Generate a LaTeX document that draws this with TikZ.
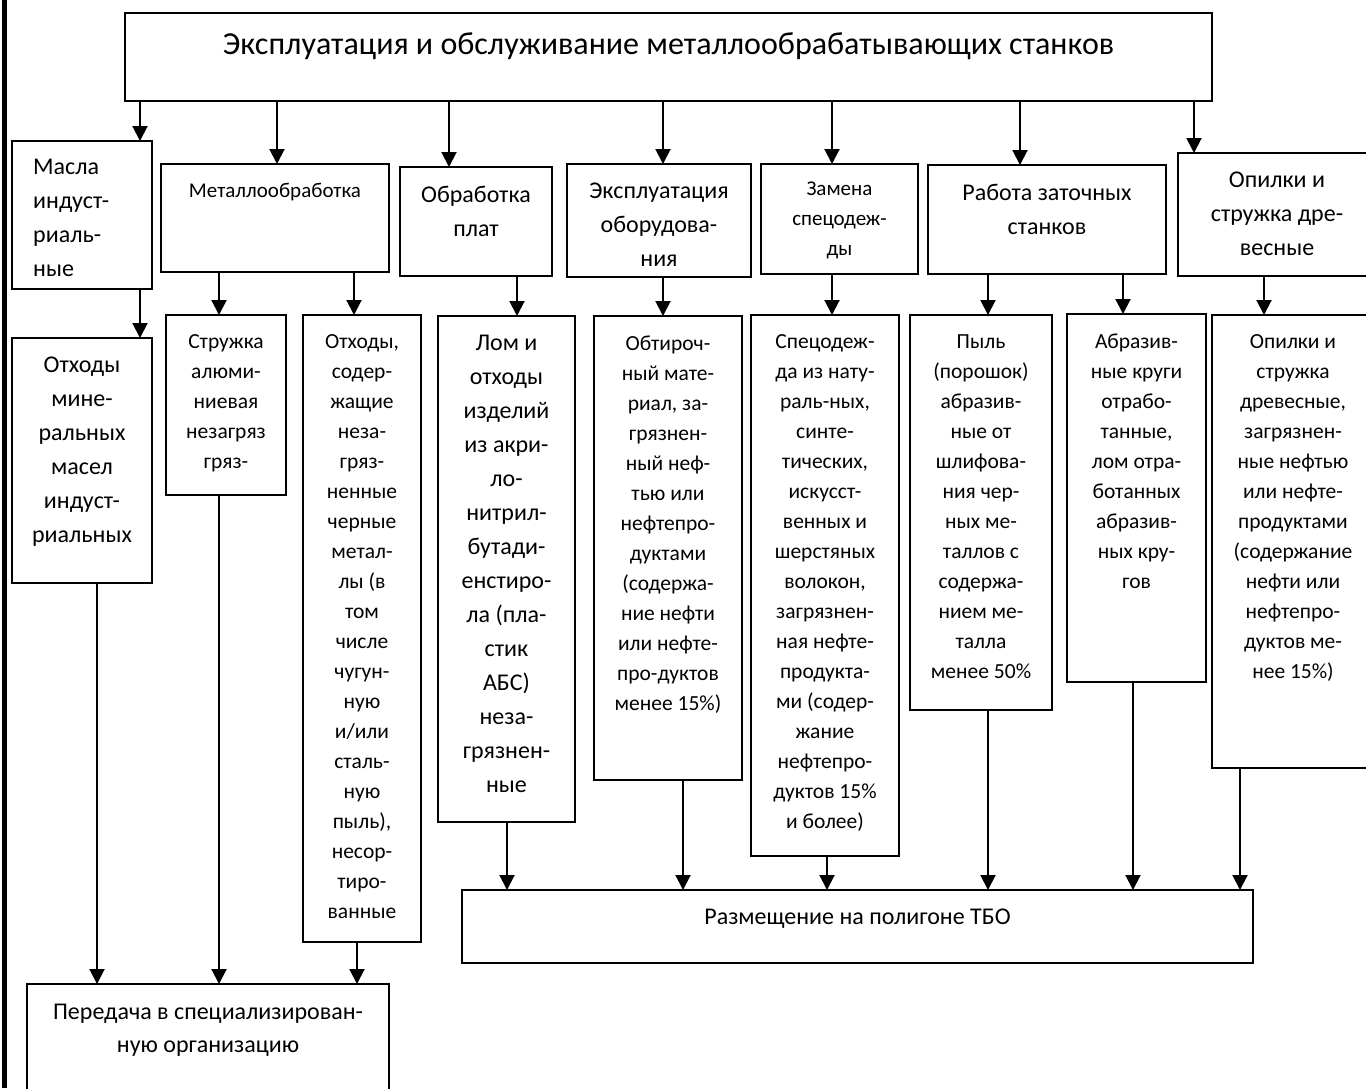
\documentclass[tikz,border=0pt]{standalone}
\usepackage{fontspec}
\setmainfont{Carlito}
\usetikzlibrary{arrows.meta,positioning}

\begin{document}
\begin{tikzpicture}[x=1pt, y=-1pt,
  box/.style={draw, line width=1.7pt, anchor=north west, inner sep=0pt, outer sep=0pt},
  txt/.style={align=center, inner sep=0pt, anchor=north},
  fbig/.style={font=\fontsize{24}{34}\selectfont},
  fsmall/.style={font=\fontsize{21}{30}\selectfont},
  flow/.style={font=\fontsize{21.5}{30}\selectfont},
  arr/.style={-{Triangle[width=15pt,length=15pt]}, line width=2pt}]
\clip (0,0) rectangle (1366,1088);
\fill[white] (0,0) rectangle (1366,1088);
\fill[black] (2,0) rectangle (7,1088);
% ---------- top box ----------
\node[box, minimum width=1087pt, minimum height=88pt] (top) at (125,13) {};
\node[txt, font=\fontsize{32}{40}\selectfont, below=20pt of top.north] (toptxt)
  {Эксплуатация и обслуживание металлообрабатывающих станков};
% ---------- row 1 ----------
\node[box, minimum width=140pt, minimum height=148pt] (masla) at (12,141) {};
\node[txt, fbig, align=left, anchor=north west] (maslatxt) at (33,159)
  {Масла\\индуст-\\риаль-\\ные};
\node[box, minimum width=228pt, minimum height=108pt] (metal) at (161,164) {};
\node[txt, fsmall, below=19pt of metal.north] (metaltxt) {Металлообработка};
\node[box, minimum width=152pt, minimum height=109pt] (plat) at (400,167) {};
\node[txt, fbig, below=18.5pt of plat.north] (plattxt) {Обработка\\плат};
\node[box, minimum width=184pt, minimum height=113pt] (ekspl) at (567,164) {};
\node[txt, fbig, below=18.5pt of ekspl.north] (ekspltxt) {Эксплуатация\\оборудова-\\ния};
\node[box, minimum width=157pt, minimum height=110pt] (zamena) at (761,164) {};
\node[txt, fsmall, below=18pt of zamena.north] (zamenatxt) {Замена\\спецодеж-\\ды};
\node[box, minimum width=238pt, minimum height=109pt] (rabota) at (928,165) {};
\node[txt, fbig, below=18.5pt of rabota.north] (rabotatxt) {Работа заточных\\станков};
\node[box, minimum width=198pt, minimum height=123pt] (opil) at (1178,153) {};
\node[txt, fbig, below=18.5pt of opil.north] (opiltxt) {Опилки и\\стружка дре-\\весные};
% ---------- row 2 ----------
\node[box, minimum width=140pt, minimum height=245pt] (minmas) at (12,338) {};
\node[txt, fbig, below=18.5pt of minmas.north] (minmastxt)
  {Отходы\\мине-\\ральных\\масел\\индуст-\\риальных};
\node[box, minimum width=120pt, minimum height=180pt] (struzh) at (166,315) {};
\node[txt, flow, below=19.5pt of struzh.north] (struzhtxt)
  {Стружка\\алюми-\\ниевая\\незагряз\\гряз-};
\node[box, minimum width=118pt, minimum height=627pt] (chern) at (303,315) {};
\node[txt, flow, below=19.5pt of chern.north] (cherntxt)
  {Отходы,\\содер-\\жащие\\неза-\\гряз-\\ненные\\черные\\метал-\\лы (в\\том\\числе\\чугун-\\ную\\и/или\\сталь-\\ную\\пыль),\\несор-\\тиро-\\ванные};
\node[box, minimum width=137pt, minimum height=506pt] (lom) at (438,316) {};
\node[txt, fbig, below=18.5pt of lom.north] (lomtxt)
  {Лом и\\отходы\\изделий\\из акри-\\ло-\\нитрил-\\бутади-\\енстиро-\\ла (пла-\\стик\\АБС)\\неза-\\грязнен-\\ные};
\node[box, minimum width=148pt, minimum height=464pt] (obtir) at (594,316) {};
\node[txt, flow, below=19.5pt of obtir.north] (obtirtxt)
  {Обтироч-\\ный мате-\\риал, за-\\грязнен-\\ный неф-\\тью или\\нефтепро-\\дуктами\\(содержа-\\ние нефти\\или нефте-\\про-дуктов\\менее 15\%)};
\node[box, minimum width=148pt, minimum height=541pt] (specod) at (751,315) {};
\node[txt, flow, below=19.5pt of specod.north] (specodtxt)
  {Спецодеж-\\да из нату-\\раль-ных,\\синте-\\тических,\\искусст-\\венных и\\шерстяных\\волокон,\\загрязнен-\\ная нефте-\\продукта-\\ми (содер-\\жание\\нефтепро-\\дуктов 15\%\\и более)};
\node[box, minimum width=142pt, minimum height=395pt] (pyl) at (910,315) {};
\node[txt, flow, below=19.5pt of pyl.north] (pyltxt)
  {Пыль\\(порошок)\\абразив-\\ные от\\шлифова-\\ния чер-\\ных ме-\\таллов с\\содержа-\\нием ме-\\талла\\менее 50\%};
\node[box, minimum width=139pt, minimum height=368pt] (abraz) at (1067,314) {};
\node[txt, flow, below=19.5pt of abraz.north] (abraztxt)
  {Абразив-\\ные круги\\отрабо-\\танные,\\лом отра-\\ботанных\\абразив-\\ных кру-\\гов};
\node[box, minimum width=162pt, minimum height=453pt] (drev) at (1212,315) {};
\node[txt, flow, below=19.5pt of drev.north] (drevtxt)
  {Опилки и\\стружка\\древесные,\\загрязнен-\\ные нефтью\\или нефте-\\продуктами\\(содержание\\нефти или\\нефтепро-\\дуктов ме-\\нее 15\%)};
% ---------- bottom ----------
\node[box, minimum width=791pt, minimum height=73pt] (razm) at (462,890) {};
\node[txt, fbig, below=19pt of razm.north] (razmtxt) {Размещение на полигоне ТБО};
\node[box, minimum width=362pt, minimum height=130pt] (pered) at (27,984) {};
\node[txt, font=\fontsize{24}{33}\selectfont, below=19.5pt of pered.north] (peredtxt)
  {Передача в специализирован-\\ную организацию};
% ---------- arrows ----------
\draw[arr] (top.south -| 140,0) -- (masla.north -| 140,0);
\draw[arr] (top.south -| 277,0) -- (metal.north -| 277,0);
\draw[arr] (top.south -| 449,0) -- (plat.north -| 449,0);
\draw[arr] (top.south -| 663,0) -- (ekspl.north -| 663,0);
\draw[arr] (top.south -| 832,0) -- (zamena.north -| 832,0);
\draw[arr] (top.south -| 1020,0) -- (rabota.north -| 1020,0);
\draw[arr] (top.south -| 1194,0) -- (opil.north -| 1194,0);
\draw[arr] (masla.south -| 140,0) -- (minmas.north -| 140,0);
\draw[arr] (metal.south -| 219,0) -- (struzh.north -| 219,0);
\draw[arr] (metal.south -| 354,0) -- (chern.north -| 354,0);
\draw[arr] (plat.south -| 517,0) -- (lom.north -| 517,0);
\draw[arr] (ekspl.south -| 663,0) -- (obtir.north -| 663,0);
\draw[arr] (zamena.south -| 832,0) -- (specod.north -| 832,0);
\draw[arr] (rabota.south -| 988,0) -- (pyl.north -| 988,0);
\draw[arr] (rabota.south -| 1123,0) -- (abraz.north -| 1123,0);
\draw[arr] (opil.south -| 1264,0) -- (drev.north -| 1264,0);
\draw[arr] (minmas.south -| 97,0) -- (pered.north -| 97,0);
\draw[arr] (struzh.south -| 219,0) -- (pered.north -| 219,0);
\draw[arr] (chern.south -| 357,0) -- (pered.north -| 357,0);
\draw[arr] (lom.south -| 507,0) -- (razm.north -| 507,0);
\draw[arr] (obtir.south -| 683,0) -- (razm.north -| 683,0);
\draw[arr] (specod.south -| 827,0) -- (razm.north -| 827,0);
\draw[arr] (pyl.south -| 988,0) -- (razm.north -| 988,0);
\draw[arr] (abraz.south -| 1133,0) -- (razm.north -| 1133,0);
\draw[arr] (drev.south -| 1240,0) -- (razm.north -| 1240,0);
\end{tikzpicture}
\end{document}
